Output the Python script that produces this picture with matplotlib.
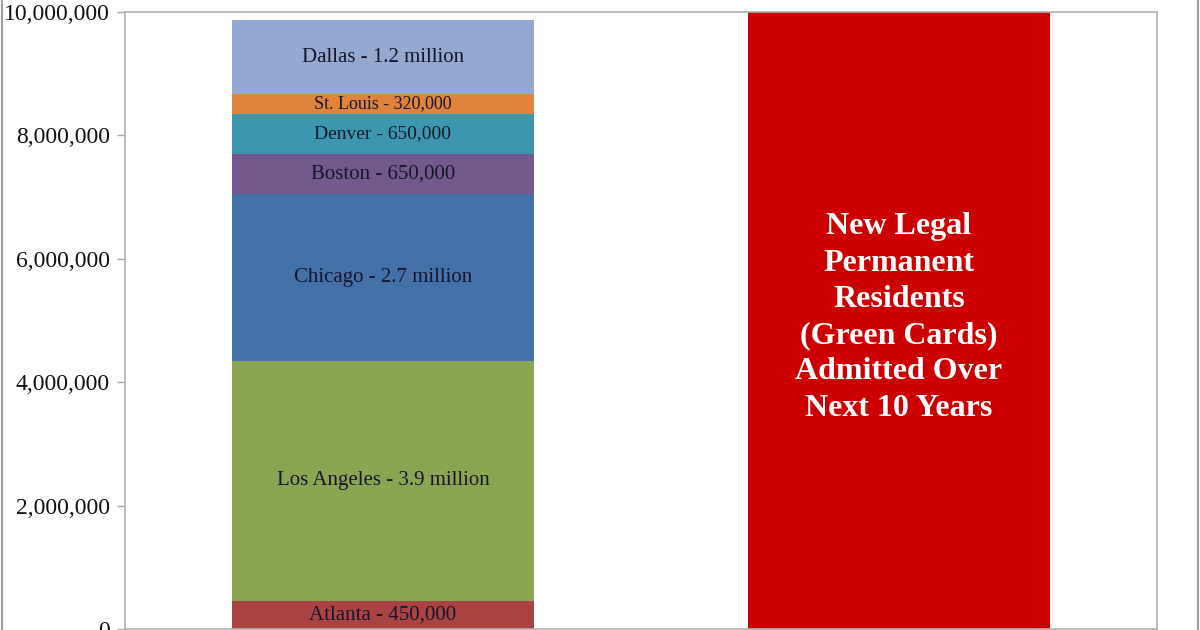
import matplotlib
matplotlib.use("Agg")
import matplotlib.pyplot as plt
from matplotlib.ticker import FuncFormatter
from matplotlib.lines import Line2D

# Data
cities = ["Atlanta", "Los Angeles", "Chicago", "Boston", "Denver", "St. Louis", "Dallas"]
city_values = [450000, 3900000, 2700000, 650000, 650000, 320000, 1200000]
city_labels = ["Atlanta - 450,000", "Los Angeles - 3.9 million", "Chicago - 2.7 million",
               "Boston - 650,000", "Denver - 650,000", "St. Louis - 320,000",
               "Dallas - 1.2 million"]
city_label_sizes = [15, 15, 15, 15, 14, 13, 15]
city_colors = ["#A94442", "#8AA653", "#4472A8", "#74598F", "#3C97AE", "#E0843D", "#93A9D1"]
green_card_value = 10500000  # extends beyond the visible top of the chart
green_card_label = "New Legal\nPermanent\nResidents\n(Green Cards)\nAdmitted Over\nNext 10 Years"
y_ticks = [0, 2000000, 4000000, 6000000, 8000000, 10000000]

plt.rcParams['font.family'] = ['Liberation Serif', 'DejaVu Serif']

fig = plt.figure(figsize=(12, 6.3), dpi=100)
ax = fig.add_axes([125/1200, 1 - 629/630, 1032/1200, 617/630])

bar_w = 0.587
bottom = 0
for val, lab, col, fs in zip(city_values, city_labels, city_colors, city_label_sizes):
    ax.bar(0, val, bottom=bottom, width=bar_w, color=col, edgecolor='none', zorder=2)
    ax.text(0, bottom + val / 2, lab, ha='center', va='center', fontsize=fs,
            color='#15152a', zorder=3)
    bottom += val

ax.bar(1, green_card_value, width=bar_w, color='#CC0000', edgecolor='none', zorder=2)
ax.text(1, 5050000, green_card_label, ha='center', va='center', fontsize=23,
        fontweight='bold', color='white', linespacing=1.33, zorder=3)

ax.set_xlim(-0.5, 1.5)
ax.set_ylim(0, 10000000)
ax.set_yticks(y_ticks)
ax.yaxis.set_major_formatter(FuncFormatter(lambda v, p: f"{int(v):,}"))
ax.set_xticks([])
ax.tick_params(axis='y', length=6, width=1, color='#a6a6a6', labelsize=17,
               labelcolor='#111111', pad=5)
for s in ax.spines.values():
    s.set_color('#b0b0b0')
    s.set_linewidth(1.2)

# outer chart frame lines
fig.add_artist(Line2D([2/1200, 2/1200], [0, 1], transform=fig.transFigure,
                      color='#a0a0a0', lw=1.5))
fig.add_artist(Line2D([1198/1200, 1198/1200], [0, 1], transform=fig.transFigure,
                      color='#a0a0a0', lw=1.5))

fig.savefig("out.png", dpi=100)
